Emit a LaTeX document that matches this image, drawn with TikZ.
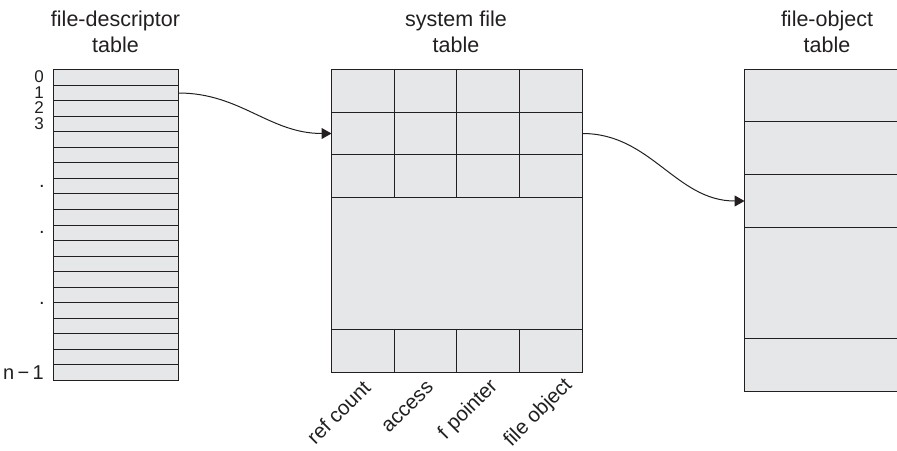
\documentclass[tikz,border=0pt]{standalone}
\usepackage{fontspec}
\setmainfont{Liberation Sans}
\usetikzlibrary{arrows.meta}
\definecolor{cellfill}{RGB}{230,231,232}
\definecolor{ink}{RGB}{35,31,32}
\begin{document}
\begin{tikzpicture}[x=1pt,y=-1pt,
  cell/.style={draw=ink,fill=cellfill,line width=1.3pt,inner sep=0pt,outer sep=0pt,anchor=north west},
  title/.style={font=\fontsize{21.5}{26}\selectfont,align=center,anchor=north,inner sep=0pt,text=ink},
  idx/.style={font=\fontsize{17}{17}\selectfont,anchor=east,inner sep=0pt,text=ink},
  dotmark/.style={font=\fontsize{20}{20}\selectfont,anchor=base,inner sep=0pt,text=ink},
  field/.style={font=\fontsize{20.5}{20.5}\selectfont,rotate=45,anchor=base east,inner sep=0pt,text=ink},
  ptr/.style={draw=ink,line width=1pt,-{Triangle[length=10pt,width=11pt]}}
]
\useasboundingbox (0,0) rectangle (897,450);

% titles
\node[title] (t1) at (115.5,11.2) {file-descriptor\\table};
\node[title] (t2) at (456,11.2) {system file\\table};
\node[title] (t3) at (827,11.2) {file-object\\table};

% file-descriptor table (rows snapped to the pixel grid)
\foreach \i in {0,...,19} {
  \pgfmathsetmacro\ya{round(69+15.55*\i)+0.5}
  \pgfmathsetmacro\yb{round(69+15.55*(\i+1))+0.5}
  \pgfmathsetmacro\hh{\yb-\ya}
  \node[cell,minimum width=125pt,minimum height=\hh pt] (fd\i) at (53.5,\ya) {};
}
\node[idx] (l0) at (44,76.8) {0};
\node[idx] (l1) at (44,92.3) {1};
\node[idx] (l2) at (44,107.9) {2};
\node[idx] (l3) at (44,123.4) {3};
\node[dotmark] (d1) at (42,187) {.};
\node[dotmark] (d2) at (42,233) {.};
\node[dotmark] (d3) at (42,304) {.};
\node[idx,font=\fontsize{20}{20}\selectfont] (ln) at (44,372.2) {n\,−\,1};

% system file table
\foreach \ya/\yb [count=\r from 0] in {69.5/112.5, 112.5/154.5, 154.5/197.5}
  \foreach \xa/\xb [count=\c from 0] in {331.5/394.5, 394.5/456.5, 456.5/519.5, 519.5/582.5} {
    \pgfmathsetmacro\ww{\xb-\xa}
    \pgfmathsetmacro\hh{\yb-\ya}
    \node[cell,minimum width=\ww pt,minimum height=\hh pt] (sf\r\c) at (\xa,\ya) {};
  }
\node[cell,minimum width=251pt,minimum height=132pt] (sfmid) at (331.5,197.5) {};
\foreach \xa/\xb [count=\c from 0] in {331.5/394.5, 394.5/456.5, 456.5/519.5, 519.5/582.5} {
  \pgfmathsetmacro\ww{\xb-\xa}
  \node[cell,minimum width=\ww pt,minimum height=43pt] (sfb\c) at (\xa,329.5) {};
}

% field labels
\node[field] (f1) at (372,389) {ref count};
\node[field] (f2) at (434.5,388.5) {access};
\node[field] (f3) at (498.5,387.5) {f pointer};
\node[field] (f4) at (573,386) {file object};

% file-object table (open on the right)
\node[cell,minimum width=170pt,minimum height=52pt] (fo0) at (744.5,69.5) {};
\node[cell,minimum width=170pt,minimum height=53pt] (fo1) at (744.5,121.5) {};
\node[cell,minimum width=170pt,minimum height=53pt] (fo2) at (744.5,174.5) {};
\node[cell,minimum width=170pt,minimum height=111pt] (fo3) at (744.5,227.5) {};
\node[cell,minimum width=170pt,minimum height=53pt] (fo4) at (744.5,338.5) {};

% pointers
\draw[ptr] (fd1.east) to[out=0,in=180] (sf10.west);
\draw[ptr] (sf13.east) to[out=0,in=180] (fo2.west);
\end{tikzpicture}
\end{document}
